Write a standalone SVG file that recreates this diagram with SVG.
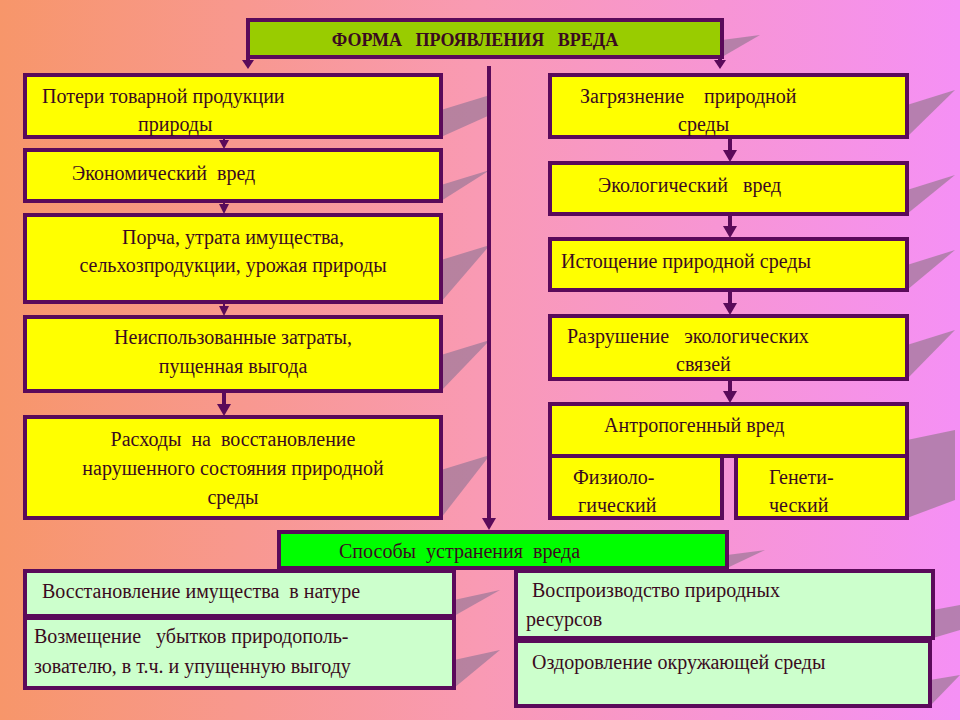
<svg xmlns="http://www.w3.org/2000/svg" width="960" height="720" viewBox="0 0 960 720" font-family="'Liberation Serif','Times New Roman','DejaVu Serif',serif">
<defs>
<linearGradient id="bg" x1="0" y1="0" x2="1" y2="0">
<stop offset="0" stop-color="#f7966a"/><stop offset="0.5" stop-color="#f99ab4"/><stop offset="1" stop-color="#f590f5"/>
</linearGradient>
<style>
.b{stroke:#5a0a5a;stroke-width:4}
.y{fill:#ffff00}.g{fill:#ccffcc}
.sh{fill:#a07a9a;opacity:0.75}
text{font-family:'Liberation Serif','Times New Roman','DejaVu Serif',serif;font-size:20px;fill:#3a0a20;white-space:pre}
.c{stroke:#5a0a5a;stroke-width:4;fill:none}
.t{stroke-width:2}
.h{fill:#5a0a5a}
</style>
</defs>
<rect width="960" height="720" fill="url(#bg)"/>
<g id="shadows">
<polygon class="sh" points="722,57 722,40 760,35"/>
<polygon class="sh" points="441,137 441,110 490,95 490,115"/>
<polygon class="sh" points="441,201 441,185 490,170"/>
<polygon class="sh" points="441,302 441,260 490,245"/>
<polygon class="sh" points="441,391 441,355 490,340"/>
<polygon class="sh" points="441,518 441,470 490,455"/>
<polygon class="sh" points="907,137 907,105 955,90"/>
<polygon class="sh" points="907,214 907,190 955,175"/>
<polygon class="sh" points="907,290 907,265 955,250"/>
<polygon class="sh" points="907,379 907,345 955,330"/>
<polygon class="sh" points="907,518 907,440 955,430 955,500"/>
<polygon class="sh" points="727,568 727,555 765,550"/>
<polygon class="sh" points="454,616 454,600 500,590"/>
<polygon class="sh" points="454,688 454,660 500,650"/>
<polygon class="sh" points="933,638 933,610 960,605 960,630"/>
<polygon class="sh" points="930,706 930,680 960,675"/>
</g>
<g id="connectors">
<line class="c" x1="248" y1="57" x2="248" y2="62"/><polygon class="h" points="242,60 254,60 248,69"/>
<line class="c" x1="720" y1="57" x2="720" y2="62"/><polygon class="h" points="714,60 726,60 720,69"/>
<line class="c" x1="489" y1="66" x2="489" y2="520"/><polygon class="h" points="482,518 496,518 489,530"/>
<line class="c t" x1="224" y1="137" x2="224" y2="142"/><polygon class="h" points="219,140 229,140 224,149"/>
<line class="c t" x1="224" y1="201" x2="224" y2="206"/><polygon class="h" points="219,204 229,204 224,214"/>
<line class="c t" x1="224" y1="302" x2="224" y2="308"/><polygon class="h" points="219,306 229,306 224,316"/>
<line class="c" x1="224" y1="391" x2="224" y2="406"/><polygon class="h" points="217,404 231,404 224,416"/>
<line class="c" x1="730" y1="137" x2="730" y2="152"/><polygon class="h" points="723,150 737,150 730,162"/>
<line class="c" x1="730" y1="214" x2="730" y2="228"/><polygon class="h" points="723,226 737,226 730,238"/>
<line class="c" x1="730" y1="290" x2="730" y2="305"/><polygon class="h" points="723,303 737,303 730,315"/>
<line class="c" x1="730" y1="379" x2="730" y2="393"/><polygon class="h" points="723,391 737,391 730,403"/>
</g>
<g id="title"><rect class="b" x="248" y="20" width="474" height="37" fill="#99cc00"/><text x="475" y="46" text-anchor="middle" font-weight="bold" style="font-size:18px">ФОРМА   ПРОЯВЛЕНИЯ   ВРЕДА</text></g>
<g id="l1"><rect class="b y" x="25" y="75" width="416" height="62"/><text x="42" y="103">Потери товарной продукции</text><text x="138" y="131">природы</text></g>
<g id="l2"><rect class="b y" x="25" y="150" width="416" height="51"/><text x="72" y="180">Экономический  вред</text></g>
<g id="l3"><rect class="b y" x="25" y="215" width="416" height="87"/><text x="233" y="244" text-anchor="middle">Порча, утрата имущества,</text><text x="233" y="272" text-anchor="middle">сельхозпродукции, урожая природы</text></g>
<g id="l4"><rect class="b y" x="25" y="317" width="416" height="74"/><text x="233" y="344" text-anchor="middle">Неиспользованные затраты,</text><text x="233" y="373" text-anchor="middle">пущенная выгода</text></g>
<g id="l5"><rect class="b y" x="25" y="417" width="416" height="101"/><text x="233" y="446" text-anchor="middle">Расходы  на  восстановление</text><text x="233" y="475" text-anchor="middle">нарушенного состояния природной</text><text x="233" y="504" text-anchor="middle">среды</text></g>
<g id="r1"><rect class="b y" x="550" y="75" width="357" height="62"/><text x="580" y="103">Загрязнение    природной</text><text x="678" y="131">среды</text></g>
<g id="r2"><rect class="b y" x="550" y="163" width="357" height="51"/><text x="598" y="192">Экологический   вред</text></g>
<g id="r3"><rect class="b y" x="550" y="239" width="357" height="51"/><text x="561" y="268">Истощение природной среды</text></g>
<g id="r4"><rect class="b y" x="550" y="316" width="357" height="63"/><text x="567" y="343">Разрушение   экологических</text><text x="676" y="371">связей</text></g>
<g id="r5"><rect class="b y" x="550" y="404" width="357" height="52"/><text x="604" y="432">Антропогенный вред</text></g>
<g id="r6"><rect class="b y" x="550" y="456" width="172" height="62"/><text x="573" y="484">Физиоло-</text><text x="578" y="512">гический</text></g>
<g id="r7"><rect class="b y" x="736" y="456" width="171" height="62"/><text x="769" y="484">Генети-</text><text x="769" y="512">ческий</text></g>
<g id="ways"><rect class="b" x="279" y="532" width="448" height="36" fill="#00ff00"/><text x="339" y="558">Способы  устранения  вреда</text></g>
<g id="b1"><rect class="b g" x="25" y="571" width="429" height="45"/><text x="42" y="598">Восстановление имущества  в натуре</text></g>
<g id="b2"><rect class="b g" x="25" y="618" width="429" height="70"/><text x="34" y="643">Возмещение   убытков природополь-</text><text x="34" y="673">зователю, в т.ч. и упущенную выгоду</text></g>
<g id="b3"><rect class="b g" x="516" y="571" width="417" height="67"/><text x="532" y="597">Воспроизводство природных</text><text x="526" y="626">ресурсов</text></g>
<g id="b4"><rect class="b g" x="516" y="641" width="414" height="65"/><text x="532" y="669">Оздоровление окружающей среды</text></g>
</svg>
